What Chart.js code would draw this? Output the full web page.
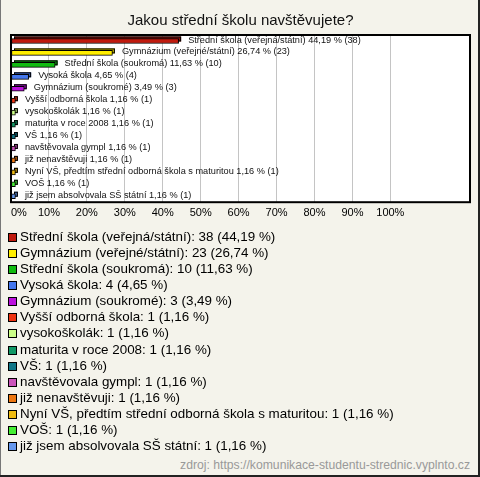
<!DOCTYPE html>
<html>
<head>
<meta charset="utf-8">
<script src="https://cdn.jsdelivr.net/npm/chart.js@4"></script>
<style>
  body { margin: 0; }
  #frame {
    position: relative; width: 480px; height: 477px; overflow: hidden;
    background: #f4f3eb;
    box-shadow: inset -2px -2px 0 #222, inset 1px 0 0 #777;
    font-family: "Liberation Sans", Arial, sans-serif;
  }
  #chart-box { position: absolute; left: 0; top: 0; width: 480px; height: 230px; }
  #legend { position: absolute; left: 8px; top: 229px; }
  .row { height: 16.08px; line-height: 16px; font-size: 13.4px; color: #000; white-space: nowrap; }
  .sw { display: inline-block; width: 7px; height: 7px; border: 1px solid #000; margin-right: 3px; vertical-align: -1px; }
  #source { position: absolute; right: 10px; top: 458px; font-size: 12.2px; color: #999; }
</style>
</head>
<body>
<div id="frame">
  <div id="chart-box"><canvas id="myChart"></canvas></div>
  <div id="legend"></div>
  <div id="source">zdroj: https://komunikace-studentu-strednic.vyplnto.cz</div>
</div>
<script>
const labels = [
    'Střední škola (veřejná/státní)',
    'Gymnázium (veřejné/státní)',
    'Střední škola (soukromá)',
    'Vysoká škola',
    'Gymnázium (soukromé)',
    'Vyšší odborná škola',
    'vysokoškolák',
    'maturita v roce 2008',
    'VŠ',
    'navštěvovala gympl',
    'již nenavštěvuji',
    'Nyní VŠ, předtím střední odborná škola s maturitou',
    'VOŠ',
    'již jsem absolvovala SŠ státní'
]
const counts = [38, 23, 10, 4, 3, 1, 1, 1, 1, 1, 1, 1, 1, 1]
const percents = [44.19, 26.74, 11.63, 4.65, 3.49, 1.16, 1.16, 1.16, 1.16, 1.16, 1.16, 1.16, 1.16, 1.16]
const colors = [
    '#c01a0e', '#ffee00', '#11bb11', '#4477ee', '#bb11dd', '#ee3311', '#ccff88',
    '#119966', '#117788', '#cc55bb', '#ee7711', '#eebb11', '#44ee33', '#6699ee'
]
const tick_values = [0, 10, 20, 30, 40, 50, 60, 70, 80, 90, 100]
const X_MAX = 121

const fmt = (v) => v.toFixed(2).replace('.', ',')

// legend below the chart
const legend = document.querySelector('#legend')
for (let i in labels) {
    let row = document.createElement('div')
    row.className = 'row'
    row.innerHTML = `<span class="sw" style="background:${colors[i]}"></span>${labels[i]}: ${counts[i]} (${fmt(percents[i])} %)`
    legend.appendChild(row)
}

const darker = (hex) => {
    let n = parseInt(hex.slice(1), 16)
    let r = Math.round(((n >> 16) & 255) * 0.7)
    let g = Math.round(((n >> 8) & 255) * 0.7)
    let b = Math.round((n & 255) * 0.7)
    return `rgb(${r}, ${g}, ${b})`
}

const plotFrame = {
    id: 'plotFrame',
    beforeDraw(chart) {
        const { ctx, chartArea: a } = chart
        ctx.save()
        ctx.fillStyle = '#fff'
        ctx.fillRect(a.left, a.top, a.right - a.left, a.bottom - a.top)
        ctx.restore()
    },
    beforeDatasetsDraw(chart) {
        // back face of the pseudo 3D bars
        const ctx = chart.ctx
        const meta = chart.getDatasetMeta(0)
        ctx.save()
        meta.data.forEach((bar, i) => {
            let h = bar.height
            let left = bar.base + 2.5
            let top = bar.y - h / 2 - 2
            ctx.fillStyle = darker(colors[i])
            ctx.strokeStyle = '#000'
            ctx.lineWidth = 1
            ctx.fillRect(left, top, bar.x - bar.base, h)
            ctx.strokeRect(left + 0.5, top + 0.5, bar.x - bar.base - 1, h - 1)
        })
        ctx.restore()
    },
    afterDatasetsDraw(chart) {
        const ctx = chart.ctx
        const meta = chart.getDatasetMeta(0)
        ctx.save()
        ctx.font = '9.2px "Liberation Sans", Arial, sans-serif'
        ctx.fillStyle = '#111'
        ctx.textAlign = 'left'
        ctx.textBaseline = 'middle'
        meta.data.forEach((bar, i) => {
            ctx.fillText(`${labels[i]} ${fmt(percents[i])} % (${counts[i]})`, bar.x + 9.5, bar.y - 1)
        })
        ctx.restore()
    },
    afterDraw(chart) {
        const { ctx, chartArea: a } = chart
        ctx.save()
        ctx.strokeStyle = '#000'
        ctx.lineWidth = 2
        ctx.strokeRect(a.left, a.top, a.right - a.left, a.bottom - a.top)
        ctx.restore()
    }
}

const config = {
    type: 'bar',
    data: {
        labels: labels,
        datasets: [{
            data: percents,
            backgroundColor: colors,
            borderColor: '#000',
            borderWidth: 1,
            borderSkipped: false,
            barThickness: 5
        }]
    },
    options: {
        indexAxis: 'y',
        responsive: true,
        maintainAspectRatio: false,
        animation: false,
        layout: {
            padding: { left: 11, right: 10, top: 0, bottom: 6.6 }
        },
        plugins: {
            legend: { display: false },
            tooltip: { enabled: false },
            title: {
                display: true,
                text: 'Jakou střední školu navštěvujete?',
                color: '#111',
                font: { size: 15, family: '"Liberation Sans", Arial, sans-serif', weight: 'normal', lineHeight: 1.2 },
                padding: { top: 11.7, bottom: 5.3 }
            }
        },
        scales: {
            x: {
                min: 0,
                max: X_MAX,
                afterBuildTicks: (axis) => {
                    axis.ticks = tick_values.concat([X_MAX]).map(v => ({ value: v }))
                },
                ticks: {
                    autoSkip: false,
                    maxRotation: 0,
                    align: 'inner',
                    padding: 4,
                    color: '#000',
                    font: { size: 11, family: '"Liberation Sans", Arial, sans-serif' },
                    callback: (v) => v > 100 ? '' : v + '%'
                },
                grid: {
                    color: (c) => (c.tick && c.tick.value > 100) ? 'rgba(0,0,0,0)' : '#c4c4c4',
                    lineWidth: 1,
                    drawTicks: false
                },
                border: { display: false }
            },
            y: {
                display: false,
                offset: true,
                grid: { display: false }
            }
        }
    },
    plugins: [plotFrame]
}

new Chart(document.querySelector('#myChart'), config)
</script>
</body>
</html>
